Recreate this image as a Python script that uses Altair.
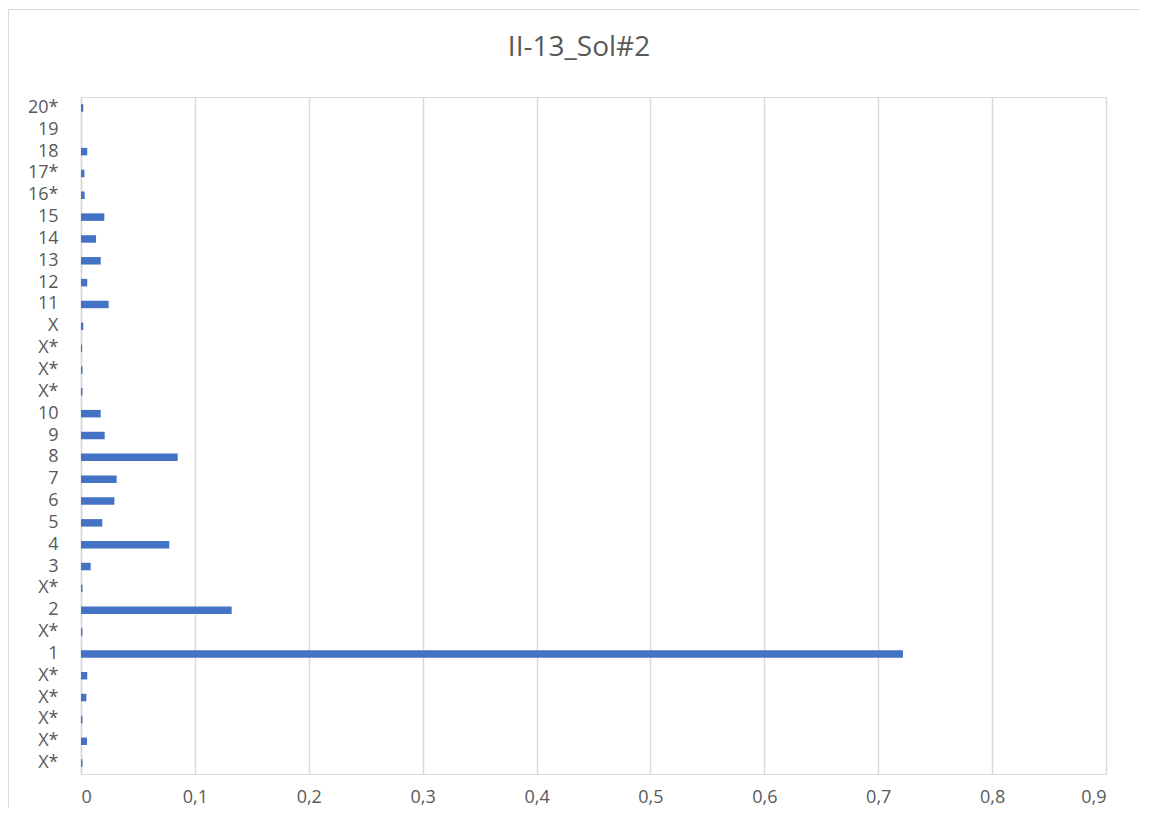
import altair as alt
import pandas as pd

# Categories listed from bottom to top as in the reference
labels = ["X*", "X*", "X*", "X*", "X*", "1", "X*", "2", "X*", "3", "4", "5", "6", "7", "8",
          "9", "10", "X*", "X*", "X*", "X", "11", "12", "13", "14", "15", "16*", "17*", "18",
          "19", "20*"]
values = [0.0013, 0.0053, 0.0013, 0.0047, 0.0055, 0.7217, 0.0013, 0.1323, 0.0013, 0.0085,
          0.0775, 0.0187, 0.0293, 0.0313, 0.0849, 0.0208, 0.0173, 0.0013, 0.0013, 0.0010,
          0.0020, 0.0243, 0.0055, 0.0173, 0.0132, 0.0205, 0.0032, 0.0030, 0.0055, 0.0, 0.0020]
title_text = ["II-13_Sol#2"]

keys = [f"{i:02d}|{lab}" for i, lab in enumerate(labels)]
df = pd.DataFrame({"key": keys, "value": values})
domain_top_to_bottom = list(reversed(keys))

W, H = 1025, 677
FONT = "Open Sans"
GREY = "#595959"

bars = alt.Chart(df).mark_bar(color="#4472C4").encode(
    x=alt.X("value:Q",
            scale=alt.Scale(domain=[0, 0.9], nice=False, zero=True),
            axis=alt.Axis(values=[0, 0.1, 0.2, 0.3, 0.4, 0.5, 0.6, 0.7, 0.8, 0.9],
                          labelExpr="replace(format(datum.value, '.1~f'), '.', ',')",
                          title=None, domain=False, ticks=False, grid=True,
                          gridColor="#d9d9d9", gridWidth=1.5,
                          labelFont=FONT, labelFontSize=18, labelColor=GREY,
                          labelPadding=14)),
    y=alt.Y("key:N", sort=domain_top_to_bottom,
            scale=alt.Scale(domain=domain_top_to_bottom, paddingInner=0.657, paddingOuter=0.3285),
            axis=alt.Axis(labelExpr="split(datum.label, '|')[1]",
                          title=None, domain=True, domainColor="#d9d9d9", domainWidth=1.5,
                          ticks=False, grid=False,
                          labelFont=FONT, labelFontSize=18, labelColor=GREY,
                          labelPadding=23)),
)

frame = alt.Chart(df).mark_rect(filled=False, stroke="#d9d9d9", strokeWidth=1, clip=False).encode(
    x=alt.value(-72.5), x2=alt.value(W + 80), y=alt.value(-87.5), y2=alt.value(H + 80)
)

title = alt.Chart(pd.DataFrame({"t": title_text})).mark_text(
    font=FONT, fontSize=28, color=GREY, align="center", baseline="middle", clip=False
).encode(text="t:N", x=alt.value(498), y=alt.value(-49))

chart = alt.layer(frame, bars, title).properties(
    width=W, height=H,
    autosize=alt.AutoSizeParams(type="none"),
    padding={"left": 73, "top": 89, "right": 34, "bottom": 34},
).configure_view(stroke=None, strokeWidth=0).configure(background="white")

chart.save("out.html", embed_options={"renderer": "svg", "actions": False})
